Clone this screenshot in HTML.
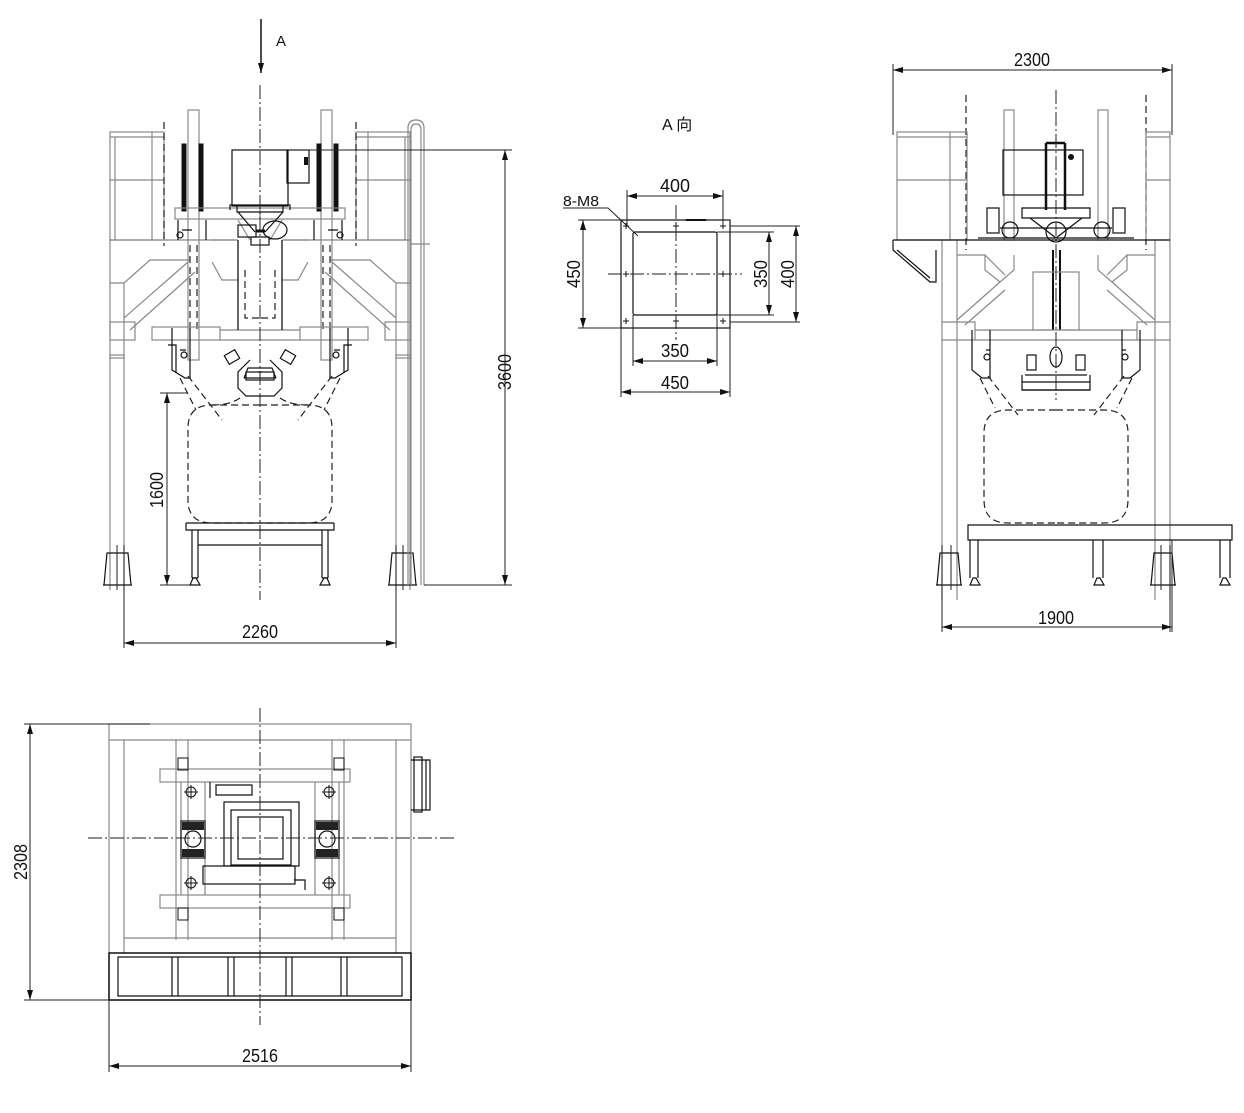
<!DOCTYPE html>
<html><head><meta charset="utf-8"><style>
html,body{margin:0;padding:0;background:#fff;}
svg{display:block;}
text{font-family:"Liberation Sans Narrow","Liberation Sans","Noto Sans CJK SC",sans-serif;fill:#111;}
.k{stroke:#111;stroke-width:1.2;fill:none}
.kk{stroke:#111;stroke-width:3;fill:none}
.g{stroke:#888;stroke-width:1.2;fill:none}
.c{stroke:#222;stroke-width:1;fill:none;stroke-dasharray:14 3 2 3}
.d{stroke:#222;stroke-width:1.2;fill:none;stroke-dasharray:7 4}
.dm{stroke:#222;stroke-width:1;fill:none}
</style></head><body>
<svg width="1244" height="1113" viewBox="0 0 1244 1113" xmlns="http://www.w3.org/2000/svg">
<defs>
<marker id="a" markerWidth="10" markerHeight="6" refX="10" refY="3" orient="auto" markerUnits="userSpaceOnUse"><path d="M0,0 L10,3 L0,6 z" fill="#111"/></marker>
<marker id="b" markerWidth="10" markerHeight="6" refX="0" refY="3" orient="auto" markerUnits="userSpaceOnUse"><path d="M10,0 L0,3 L10,6 z" fill="#111"/></marker>

<g id="fhalf">
 <rect class="g" x="110" y="132" width="54" height="108"/>
 <line class="g" x1="152" y1="132" x2="152" y2="240"/><line class="g" x1="110" y1="180" x2="164" y2="180"/>
 <line class="g" x1="110" y1="137" x2="164" y2="137"/><line class="g" x1="115" y1="137" x2="115" y2="240"/>
 <line class="d" x1="164" y1="122" x2="164" y2="246"/>
 <path class="g" d="M110 240 L235 240 M110 283 L124 283 L150 260 L190 260 M110 240 L110 590 M124 283 L124 590"/>
 <path class="g" d="M124 318 L188 262 M130 330 L195 272"/>
 <rect class="g" x="110" y="322" width="25" height="18"/>
 <rect class="g" x="110" y="355" width="14" height="3"/>
 <rect class="g" x="188" y="110" width="11" height="250"/>
 <rect class="kk" x="183" y="145" width="2" height="65"/><rect class="kk" x="200" y="145" width="2" height="65"/>
 <line class="d" x1="197" y1="245" x2="197" y2="330"/><line class="d" x1="190" y1="245" x2="190" y2="330"/>
 <rect class="g" x="175" y="208" width="85" height="11"/>
 <path class="k" d="M178 220 L178 240 M182 230 L192 230 M206 220 L206 240"/>
 <circle class="k" cx="180" cy="235" r="3"/>
 <path class="k" d="M230 210 L230 205 L260 205"/>
 <path class="g" d="M238 220 L250 240 M212 240 L238 240"/>
 <path class="g" d="M238 240 L238 330 M212 262 L222 280 L238 280"/>
 <path class="d" d="M245 270 L245 318 L260 318"/>
 <rect class="g" x="152" y="327" width="68" height="13"/>
 <line class="g" x1="220" y1="330" x2="260" y2="330"/><line class="g" x1="220" y1="340" x2="260" y2="340"/>
 <path class="k" d="M172 328 L172 370 L185 378 L190 378 L190 328 M168 345 L176 345 L176 372 M180 350 L186 350"/>
 <circle class="k" cx="184" cy="355" r="3"/>
 <path class="d" d="M180 378 L196 410 M188 376 L222 420"/>
 <rect class="k" x="226" y="352" width="12" height="10" transform="rotate(-30 232 357)"/>
 <path class="k" d="M250 360 L238 372 L238 388 L246 396 L260 396 M244 378 L260 378"/>
 <path class="d" d="M260 405 L212 405 Q188 405 188 428 L188 500 Q188 523 212 523 L260 523"/>
 <path class="d" d="M240 398 Q230 405 212 405"/>
 <path class="k" d="M186 523 L260 523 M186 523 L186 530 L260 530 M192 530 L192 578 M198 530 L198 578 M198 545 L260 545 M192 578 L198 578"/>
 <path class="k" d="M190 585 L200 585 L196 578 L193 578 z"/>
 <path class="k" d="M104 585 L107 553 L128 553 L131 585 z M103 585 L132 585"/>
 <line class="dm" x1="124" y1="545" x2="124" y2="648"/>
 <line class="dm" x1="117" y1="545" x2="117" y2="590"/>
</g>

<g id="rhalf">
 <line class="d" x1="966" y1="95" x2="966" y2="250"/>
 <path class="g" d="M942 240 L942 600 M957 240 L957 600 M957 255 L985 255 L1005 275 M985 255 L985 270 L1000 282 L1014 270 L1014 255"/>
 <path class="g" d="M957 320 L1000 282 M965 325 L1005 290 M942 322 L975 322 L975 340 L942 340 M975 330 L1056 330 M975 340 L1056 340"/>
 <rect class="g" x="1004" y="110" width="10" height="130"/>
 <rect class="k" x="987" y="208" width="12" height="25"/>
 <circle class="k" cx="1010" cy="230" r="8"/>
 <path class="k" d="M978 238 L1056 238 M1000 228 L1056 228"/>
 <path class="k" d="M972 330 L972 370 L982 378 L990 378 L990 330 M986 350 L990 350"/>
 <circle class="k" cx="987" cy="357" r="3"/>
 <path class="d" d="M980 378 L995 408 M988 376 L1018 415"/>
 <rect class="k" x="1027" y="355" width="9" height="15"/>
 <path class="k" d="M1025 375 L1056 375 M1022 375 L1022 390 L1056 390 M1022 382 L1056 382"/>
 <path class="d" d="M1056 410 L1008 410 Q984 410 984 433 L984 500 Q984 523 1008 523 L1056 523"/>
 <path class="k" d="M937 585 L940 553 L958 553 L961 585 z M936 585 L962 585"/>
 <line class="dm" x1="942" y1="545" x2="942" y2="632"/>
 <line class="dm" x1="951" y1="545" x2="951" y2="590"/>
</g>
</defs>

<!-- FRONT VIEW -->
<line x1="261" y1="19" x2="261" y2="73" stroke="#111" stroke-width="1.5" marker-end="url(#a)"/>
<text x="276" y="46" font-size="15">A</text>
<use href="#fhalf"/>
<use href="#fhalf" transform="translate(520,0) scale(-1,1)"/>
<rect class="k" x="232" y="150" width="56" height="56"/>
<rect class="k" x="287" y="150" width="22" height="33"/>
<rect x="304" y="157" width="4" height="8" fill="#111"/>
<path class="k" d="M237 206 L237 212 L283 212 L283 206 M238 212 L255 232 M283 212 L265 232"/>
<rect class="k" x="238" y="225" width="18" height="12"/>
<ellipse class="k" cx="275" cy="230" rx="12" ry="9"/>
<line class="kk" x1="256" y1="231" x2="265" y2="231"/>
<rect class="k" x="251" y="237" width="18" height="8"/>
<path class="k" d="M238 240 L238 330 M282 240 L282 330"/>
<path class="k" d="M244 378 L248 368 L272 368 L276 378 M258 372 L262 372"/>
<rect class="k" x="246" y="372" width="28" height="8"/>
<path class="g" d="M408 585 L408 128 Q408 120 416 120 Q424 120 424 128 L424 585 M411 585 L411 130 Q411 124 416 124 Q421 124 421 130 L421 585"/>
<line class="g" x1="410" y1="244" x2="430" y2="244"/>
<line class="c" x1="260" y1="85" x2="260" y2="600"/>
<line class="dm" x1="288" y1="150" x2="512" y2="150"/>
<line class="dm" x1="424" y1="585" x2="512" y2="585"/>
<line class="dm" x1="505" y1="150" x2="505" y2="585" marker-start="url(#b)" marker-end="url(#a)"/>
<text x="0" y="0" font-size="18" transform="translate(511,390) rotate(-90)" textLength="36" lengthAdjust="spacingAndGlyphs">3600</text>
<line class="dm" x1="160" y1="393" x2="188" y2="393"/>
<line class="dm" x1="160" y1="585" x2="190" y2="585"/>
<line class="dm" x1="167" y1="393" x2="167" y2="585" marker-start="url(#b)" marker-end="url(#a)"/>
<text x="0" y="0" font-size="18" transform="translate(163,508) rotate(-90)" textLength="36" lengthAdjust="spacingAndGlyphs">1600</text>
<line class="dm" x1="124" y1="643" x2="396" y2="643" marker-start="url(#b)" marker-end="url(#a)"/>
<text x="242" y="638" font-size="18" textLength="36" lengthAdjust="spacingAndGlyphs">2260</text>

<!-- A VIEW -->
<text x="662" y="130" font-size="16">A 向</text>
<rect class="k" x="621" y="220" width="109" height="108"/>
<rect class="k" x="633" y="232" width="84" height="83" rx="2"/>
<line class="c" x1="676" y1="205" x2="676" y2="340"/>
<line class="c" x1="608" y1="274" x2="742" y2="274"/>
<g stroke="#111" stroke-width="1">
<path d="M623 226h6M626 223v6M673 226h6M676 223v6M720 226h6M723 223v6M623 274h6M626 271v6M720 274h6M723 271v6M623 321h6M626 318v6M673 321h6M676 318v6M720 321h6M723 318v6"/>
</g>
<line x1="686" y1="220" x2="706" y2="220" stroke="#111" stroke-width="2"/>
<line class="dm" x1="627" y1="190" x2="627" y2="226"/><line class="dm" x1="723" y1="190" x2="723" y2="226"/>
<line class="dm" x1="627" y1="196" x2="723" y2="196" marker-start="url(#b)" marker-end="url(#a)"/>
<text x="660" y="192" font-size="18" textLength="30" lengthAdjust="spacingAndGlyphs">400</text>
<text x="563" y="206" font-size="15" textLength="36" lengthAdjust="spacingAndGlyphs">8-M8</text>
<path class="dm" d="M563 208 L608 208 L638 236"/>
<line class="dm" x1="578" y1="220" x2="621" y2="220"/><line class="dm" x1="578" y1="328" x2="621" y2="328"/>
<line class="dm" x1="583" y1="220" x2="583" y2="328" marker-start="url(#b)" marker-end="url(#a)"/>
<text x="0" y="0" font-size="18" transform="translate(580,288) rotate(-90)" textLength="28" lengthAdjust="spacingAndGlyphs">450</text>
<line class="dm" x1="717" y1="232" x2="774" y2="232"/><line class="dm" x1="717" y1="315" x2="774" y2="315"/>
<line class="dm" x1="769" y1="232" x2="769" y2="315" marker-start="url(#b)" marker-end="url(#a)"/>
<text x="0" y="0" font-size="18" transform="translate(767,288) rotate(-90)" textLength="28" lengthAdjust="spacingAndGlyphs">350</text>
<line class="dm" x1="730" y1="226" x2="800" y2="226"/><line class="dm" x1="730" y1="322" x2="800" y2="322"/>
<line class="dm" x1="796" y1="226" x2="796" y2="322" marker-start="url(#b)" marker-end="url(#a)"/>
<text x="0" y="0" font-size="18" transform="translate(794,288) rotate(-90)" textLength="28" lengthAdjust="spacingAndGlyphs">400</text>
<line class="dm" x1="633" y1="315" x2="633" y2="366"/><line class="dm" x1="717" y1="315" x2="717" y2="366"/>
<line class="dm" x1="633" y1="361" x2="717" y2="361" marker-start="url(#b)" marker-end="url(#a)"/>
<text x="661" y="357" font-size="18" textLength="28" lengthAdjust="spacingAndGlyphs">350</text>
<line class="dm" x1="621" y1="328" x2="621" y2="397"/><line class="dm" x1="730" y1="328" x2="730" y2="397"/>
<line class="dm" x1="621" y1="392" x2="730" y2="392" marker-start="url(#b)" marker-end="url(#a)"/>
<text x="661" y="389" font-size="18" textLength="28" lengthAdjust="spacingAndGlyphs">450</text>

<!-- SIDE VIEW -->
<use href="#rhalf"/>
<use href="#rhalf" transform="translate(2112,0) scale(-1,1)"/>
<!-- railings -->
<rect class="g" x="897" y="132" width="70" height="108"/>
<line class="g" x1="950" y1="132" x2="950" y2="240"/><line class="g" x1="897" y1="180" x2="967" y2="180"/>
<line class="g" x1="897" y1="137" x2="967" y2="137"/>
<rect class="g" x="1146" y="132" width="24" height="108"/>
<line class="g" x1="1146" y1="180" x2="1170" y2="180"/><line class="g" x1="1146" y1="137" x2="1170" y2="137"/>
<path class="k" d="M893 240 L1170 240 M893 240 L893 250 L930 282 L936 282 L936 250 M897 250 L930 278"/>
<path class="kk" d="M1046 143 L1046 210 M1065 143 L1065 210 M1046 143 L1065 143" style="stroke-width:2.5"/>
<rect class="k" x="1003" y="150" width="80" height="45"/>
<circle cx="1071" cy="157" r="3" fill="#111"/>
<path class="k" d="M1022 208 L1090 208 L1090 218 L1022 218 z M1030 218 L1056 238 M1082 218 L1056 238"/>
<circle class="k" cx="1056" cy="232" r="10"/>
<path class="kk" d="M1053 250 L1053 330 M1060 250 L1060 330" style="stroke-width:2"/>
<rect class="g" x="1033" y="272" width="46" height="58"/>
<ellipse class="k" cx="1056" cy="357" rx="6" ry="10"/>
<path class="k" d="M1022 390 L1090 390"/>
<path class="k" d="M968 525 L1232 525 L1232 540 L968 540 z M970 540 L970 578 M978 540 L978 578 M1093 540 L1093 578 M1103 540 L1103 578 M1220 540 L1220 578 M1230 540 L1230 578"/>
<path class="k" d="M970 585 L980 585 L976 578 L973 578 z M1094 585 L1104 585 L1100 578 L1097 578 z M1220 585 L1230 585 L1226 578 L1223 578 z"/>
<line class="c" x1="1056" y1="90" x2="1056" y2="400"/>
<line class="dm" x1="893" y1="64" x2="893" y2="135"/><line class="dm" x1="1172" y1="64" x2="1172" y2="135"/>
<line class="dm" x1="893" y1="70" x2="1172" y2="70" marker-start="url(#b)" marker-end="url(#a)"/>
<text x="1014" y="66" font-size="18" textLength="36" lengthAdjust="spacingAndGlyphs">2300</text>
<line class="dm" x1="1172" y1="540" x2="1172" y2="632"/>
<line class="dm" x1="942" y1="627" x2="1172" y2="627" marker-start="url(#b)" marker-end="url(#a)"/>
<text x="1038" y="624" font-size="18" textLength="36" lengthAdjust="spacingAndGlyphs">1900</text>

<!-- PLAN VIEW -->
<rect class="g" x="109" y="724" width="302" height="276"/>
<path class="g" d="M109 740 L411 740 M124 740 L124 953 M396 740 L396 953 M124 938 L396 938"/>
<path class="g" d="M176 740 L176 940 M188 740 L188 940 M332 740 L332 940 M344 740 L344 940"/>
<rect class="g" x="160" y="769" width="190" height="13"/>
<rect class="g" x="160" y="895" width="190" height="13"/>
<path class="g" d="M181 782 L181 895 M205 782 L205 895 M315 782 L315 895 M339 782 L339 895"/>
<rect class="k" x="181" y="821" width="24" height="37"/><rect class="k" x="315" y="821" width="24" height="37"/>
<rect x="182" y="822" width="22" height="8" fill="#222"/><rect x="182" y="849" width="22" height="8" fill="#222"/>
<rect x="316" y="822" width="22" height="8" fill="#222"/><rect x="316" y="849" width="22" height="8" fill="#222"/>
<circle class="k" cx="193" cy="839" r="8"/><circle class="k" cx="327" cy="839" r="8"/>
<g stroke="#111" stroke-width="1" fill="none">
<circle cx="191" cy="792" r="5"/><circle cx="329" cy="792" r="5"/><circle cx="191" cy="883" r="5"/><circle cx="329" cy="883" r="5"/>
<path d="M184 792h14M191 785v14M322 792h14M329 785v14M184 883h14M191 876v14M322 883h14M329 876v14"/>
<rect x="178" y="758" width="10" height="12"/><rect x="334" y="758" width="10" height="12"/>
<rect x="178" y="908" width="10" height="12"/><rect x="334" y="908" width="10" height="12"/>
</g>
<rect class="k" x="224" y="802" width="75" height="64"/>
<rect class="k" x="231" y="810" width="60" height="55"/>
<rect class="k" x="238" y="817" width="45" height="42"/>
<rect class="k" x="203" y="866" width="92" height="18"/>
<path class="k" d="M216 785 L252 785 L252 795 L216 795 z M210 782 L210 798 M294 880 L305 880 L305 890"/>
<rect class="k" x="414" y="757" width="8" height="55"/>
<path class="k" d="M411 760 L430 760 L430 810 L411 810 M426 760 L426 810"/>
<rect class="k" x="109" y="953" width="302" height="47" style="stroke-width:1.5"/>
<path class="k" d="M118 957 L402 957 L402 996 L118 996 z M172 957 L172 996 M178 957 L178 996 M228 957 L228 996 M234 957 L234 996 M286 957 L286 996 M292 957 L292 996 M341 957 L341 996 M347 957 L347 996"/>
<line class="c" x1="260" y1="708" x2="260" y2="1025"/>
<line class="c" x1="88" y1="838" x2="457" y2="838"/>
<line class="dm" x1="24" y1="724" x2="150" y2="724"/><line class="dm" x1="24" y1="1000" x2="109" y2="1000"/>
<line class="dm" x1="30" y1="724" x2="30" y2="1000" marker-start="url(#b)" marker-end="url(#a)"/>
<text x="0" y="0" font-size="18" transform="translate(27,880) rotate(-90)" textLength="36" lengthAdjust="spacingAndGlyphs">2308</text>
<line class="dm" x1="109" y1="1000" x2="109" y2="1072"/><line class="dm" x1="411" y1="1000" x2="411" y2="1072"/>
<line class="dm" x1="109" y1="1066" x2="411" y2="1066" marker-start="url(#b)" marker-end="url(#a)"/>
<text x="242" y="1062" font-size="18" textLength="36" lengthAdjust="spacingAndGlyphs">2516</text>
</svg>
</body></html>
